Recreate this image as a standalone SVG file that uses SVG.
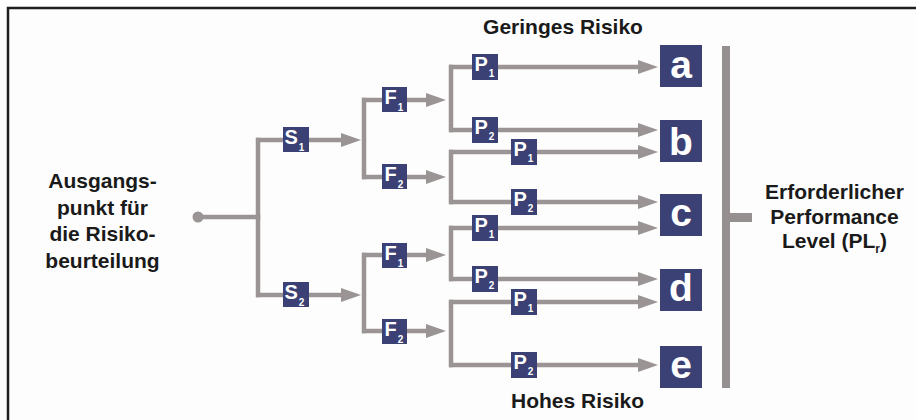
<svg xmlns="http://www.w3.org/2000/svg" width="916" height="420" viewBox="0 0 916 420">
<defs>
<style>
.ln{fill:none;stroke:#9a9494;stroke-width:4.5;stroke-linecap:square}
.ar{fill:none;stroke:#9a9494;stroke-width:4.5;marker-end:url(#ah)}
.bx{fill:#3b4174}
.lbl{font-family:"Liberation Sans",Arial,sans-serif;font-weight:bold;font-size:20px;fill:#fff}
.sub{font-size:10px}
.res{font-family:"Liberation Sans",Arial,sans-serif;font-weight:bold;font-size:39px;fill:#fff;text-anchor:middle}
.txt{font-family:"Liberation Sans",Arial,sans-serif;font-weight:bold;font-size:21px;fill:#1a1a1a;text-anchor:middle}
.tsub{font-size:12px}
</style>
<marker id="ah" viewBox="0 0 20 14" refX="2" refY="7" markerWidth="20" markerHeight="14" markerUnits="userSpaceOnUse" orient="auto">
<path d="M0,0 L20,7 L0,14 Z" fill="#9a9494"/>
</marker>
</defs>
<rect x="0" y="0" width="916" height="420" fill="#fdfdfd"/>
<rect x="8" y="8" width="930" height="430" fill="none" stroke="#1e1e1e" stroke-width="2.5"/>

<g id="connectors">
<circle cx="198" cy="217" r="5.5" fill="#9a9494"/>
<path class="ln" d="M198,217 H258"/>
<path class="ln" d="M258,140 V295"/>
<path class="ar" d="M256,140 H343"/>
<path class="ar" d="M256,295 H343"/>
<path class="ln" d="M364,100 V177"/>
<path class="ln" d="M364,255 V331"/>
<path class="ar" d="M362,100 H428"/>
<path class="ar" d="M362,177 H428"/>
<path class="ar" d="M362,255 H428"/>
<path class="ar" d="M362,331 H428"/>
<path class="ln" d="M451,67 V130"/>
<path class="ln" d="M451,152 V202"/>
<path class="ln" d="M451,228 V279"/>
<path class="ln" d="M451,302 V365"/>
<path class="ar" d="M449,67 H640"/>
<path class="ar" d="M449,130 H640"/>
<path class="ar" d="M449,152 H640"/>
<path class="ar" d="M449,202 H640"/>
<path class="ar" d="M449,228 H640"/>
<path class="ar" d="M449,279 H640"/>
<path class="ar" d="M449,302 H640"/>
<path class="ar" d="M449,365 H640"/>
<rect x="722" y="46" width="8" height="342" fill="#968f8f"/>
<rect x="729" y="213" width="23" height="9" fill="#968f8f"/>
</g>

<g id="start"><text class="txt" x="102.5" y="188">Ausgangs-</text><text class="txt" x="102.5" y="214.5">punkt für</text><text class="txt" x="102.5" y="241">die Risiko-</text><text class="txt" x="102.5" y="267.5">beurteilung</text></g>

<g id="S1"><rect class="bx" x="283" y="127" width="26" height="25"/><text class="lbl" x="284.5" y="144">S<tspan class="sub" dx="1" dy="6.5">1</tspan></text></g>
<g id="S2"><rect class="bx" x="283" y="282" width="26" height="25"/><text class="lbl" x="284.5" y="299">S<tspan class="sub" dx="1" dy="6.5">2</tspan></text></g>

<g id="F1a"><rect class="bx" x="382" y="87" width="25" height="25"/><text class="lbl" x="384.5" y="104">F<tspan class="sub" dx="1" dy="6.5">1</tspan></text></g>
<g id="F2a"><rect class="bx" x="382" y="164" width="25" height="25"/><text class="lbl" x="384.5" y="181">F<tspan class="sub" dx="1" dy="6.5">2</tspan></text></g>
<g id="F1b"><rect class="bx" x="382" y="243" width="25" height="25"/><text class="lbl" x="384.5" y="260">F<tspan class="sub" dx="1" dy="6.5">1</tspan></text></g>
<g id="F2b"><rect class="bx" x="382" y="319" width="25" height="25"/><text class="lbl" x="384.5" y="336">F<tspan class="sub" dx="1" dy="6.5">2</tspan></text></g>

<g id="P1a"><rect class="bx" x="472" y="54" width="26" height="26"/><text class="lbl" x="474.5" y="70.5">P<tspan class="sub" dx="1" dy="6.5">1</tspan></text></g>
<g id="P2a"><rect class="bx" x="472" y="117" width="26" height="26"/><text class="lbl" x="474.5" y="133.5">P<tspan class="sub" dx="1" dy="6.5">2</tspan></text></g>
<g id="P1b"><rect class="bx" x="511" y="139" width="26" height="26"/><text class="lbl" x="513.5" y="155.5">P<tspan class="sub" dx="1" dy="6.5">1</tspan></text></g>
<g id="P2b"><rect class="bx" x="511" y="189" width="26" height="26"/><text class="lbl" x="513.5" y="205.5">P<tspan class="sub" dx="1" dy="6.5">2</tspan></text></g>
<g id="P1c"><rect class="bx" x="472" y="215" width="26" height="26"/><text class="lbl" x="474.5" y="231.5">P<tspan class="sub" dx="1" dy="6.5">1</tspan></text></g>
<g id="P2c"><rect class="bx" x="472" y="266" width="26" height="26"/><text class="lbl" x="474.5" y="282.5">P<tspan class="sub" dx="1" dy="6.5">2</tspan></text></g>
<g id="P1d"><rect class="bx" x="511" y="289" width="26" height="26"/><text class="lbl" x="513.5" y="305.5">P<tspan class="sub" dx="1" dy="6.5">1</tspan></text></g>
<g id="P2d"><rect class="bx" x="511" y="352" width="26" height="26"/><text class="lbl" x="513.5" y="368.5">P<tspan class="sub" dx="1" dy="6.5">2</tspan></text></g>

<g id="ra"><rect class="bx" x="660" y="45" width="42" height="42"/><text class="res" x="681" y="77.5">a</text></g>
<g id="rb"><rect class="bx" x="660" y="120" width="42" height="42"/><text class="res" x="681" y="155">b</text></g>
<g id="rc"><rect class="bx" x="660" y="194" width="42" height="42"/><text class="res" x="681" y="226">c</text></g>
<g id="rd"><rect class="bx" x="660" y="269" width="42" height="42"/><text class="res" x="681" y="300.5">d</text></g>
<g id="re"><rect class="bx" x="660" y="346" width="42" height="42"/><text class="res" x="681" y="377.5">e</text></g>

<g id="labels">
<text class="txt" x="563" y="34">Geringes Risiko</text>
<text class="txt" x="577.5" y="407.5">Hohes Risiko</text>
<text class="txt" x="834.5" y="199.3">Erforderlicher</text>
<text class="txt" x="834.5" y="223.8">Performance</text>
<text class="txt" x="834.5" y="248.3">Level (PL<tspan class="tsub" dy="5">r</tspan><tspan dy="-5">)</tspan></text>
</g>
</svg>
